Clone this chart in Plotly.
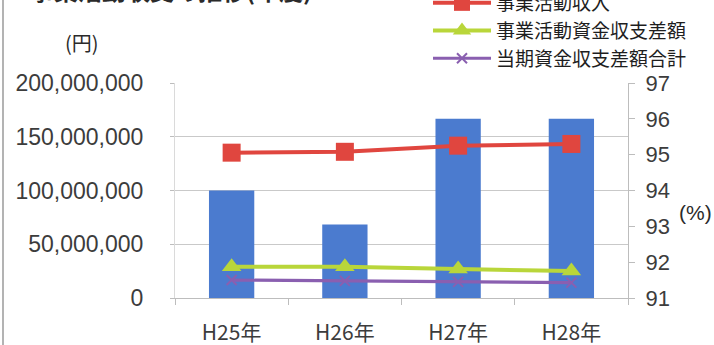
import plotly.graph_objects as go

# Fiscal years (Heisei era)
years = ["H25年", "H26年", "H27年", "H28年"]

# Ratio bars (%), drawn against the right-hand axis
ratio_pct = [94.0, 93.05, 96.0, 96.0]

# Amounts in yen, drawn against the left-hand axis
revenue = [135200000, 136000000, 141700000, 143300000]        # 事業活動収入
operating_balance = [29100000, 29000000, 27000000, 25100000]  # 事業活動資金収支差額
total_balance = [16700000, 15900000, 15000000, 14300000]      # 当期資金収支差額合計

left_ticks = [0, 50000000, 100000000, 150000000, 200000000]
left_ticktext = ["0", "50,000,000", "100,000,000", "150,000,000", "200,000,000"]
right_ticks = [91, 92, 93, 94, 95, 96, 97]

W, H = 714, 345
ML, MR, MT, MB = 175, 86, 83, 47
PW, PH = W - ML - MR, H - MT - MB


def py(pixel_y):
    """Convert a pixel row of the page into paper coordinates."""
    return (H - MB - pixel_y) / PH


def px(pixel_x):
    return (pixel_x - ML) / PW


num_font = "Liberation Sans, Arial, sans-serif"
jp_font = "Noto Sans CJK JP, sans-serif"
tick_col = "#3c3c3c"
grid_col = "#c9c9c9"

fig = go.Figure()

# Bars sit on the base axis so the lines (overlay axis) are drawn above them
fig.add_trace(go.Bar(
    x=years, y=ratio_pct, yaxis="y", name="比率",
    marker=dict(color="#4b7bcf", line=dict(width=0)),
    width=0.4, showlegend=False,
))

fig.add_trace(go.Scatter(
    x=years, y=revenue, yaxis="y2", name="事業活動収入", mode="lines+markers",
    line=dict(color="#e0463f", width=4),
    marker=dict(symbol="square", size=18, color="#e0463f"),
))
fig.add_trace(go.Scatter(
    x=years, y=operating_balance, yaxis="y2", name="事業活動資金収支差額", mode="lines+markers",
    line=dict(color="#b9d63a", width=4),
    marker=dict(symbol="triangle-up", size=17, color="#b9d63a"),
))
fig.add_trace(go.Scatter(
    x=years, y=total_balance, yaxis="y2", name="当期資金収支差額合計", mode="lines+markers",
    line=dict(color="#8a5fb0", width=3.2),
    marker=dict(symbol="x-thin", size=10, line=dict(color="#8a5fb0", width=2)),
))

fig.update_layout(
    width=W, height=H,
    margin=dict(l=ML, r=MR, t=MT, b=MB, autoexpand=False),
    paper_bgcolor="white", plot_bgcolor="white",
    xaxis=dict(
        type="category", showgrid=False, showline=True, linecolor="#bdbdbd", linewidth=1,
        ticks="outside", tickson="boundaries", ticklen=6, tickcolor="#bdbdbd",
        tickfont=dict(family=jp_font, size=21, color=tick_col),
        ticklabelstandoff=16,
    ),
    yaxis=dict(
        side="right", range=[91, 97], tickvals=right_ticks,
        showgrid=False, zeroline=False, showline=True, linecolor="#bdbdbd",
        ticks="outside", ticklen=6, tickcolor="#bdbdbd",
        tickfont=dict(family=num_font, size=22, color=tick_col),
        ticklabelstandoff=6,
    ),
    yaxis2=dict(
        overlaying="y", side="left", range=[0, 200000000],
        tickvals=left_ticks, ticktext=left_ticktext,
        showgrid=True, gridcolor=grid_col, gridwidth=1, zeroline=False,
        showline=True, linecolor="#dadada", ticks="outside", ticklen=4, tickcolor="#bdbdbd",
        tickfont=dict(family=num_font, size=23, color=tick_col),
        ticklabelstandoff=22,
    ),
    legend=dict(
        x=px(428), xanchor="left",
        y=py(-16), yanchor="top",
        font=dict(family=jp_font, size=19, color="#1e1e1e"),
        bgcolor="rgba(0,0,0,0)", tracegroupgap=0, itemwidth=58,
    ),
    annotations=[
        dict(text="(円)", xref="paper", yref="paper",
             x=px(82), y=py(43), xanchor="center", yanchor="middle",
             showarrow=False, font=dict(family=jp_font, size=20, color="#2a2a2a")),
        dict(text="(%)", xref="paper", yref="paper",
             x=px(695), y=py(212), xanchor="center", yanchor="middle",
             showarrow=False, font=dict(family=num_font, size=21, color="#2a2a2a")),
        dict(text="<b>事業活動収支の推移(年度)</b>", xref="paper", yref="paper",
             x=px(28), y=py(9), xanchor="left", yanchor="bottom",
             showarrow=False, font=dict(family=jp_font, size=24, color="#2a2a2a")),
    ],
    shapes=[
        dict(type="line", xref="paper", yref="paper",
             x0=px(3), x1=px(3), y0=py(H), y1=py(0),
             line=dict(color="#9a9a9a", width=1.5)),
    ],
)

fig.write_html("out.html")
